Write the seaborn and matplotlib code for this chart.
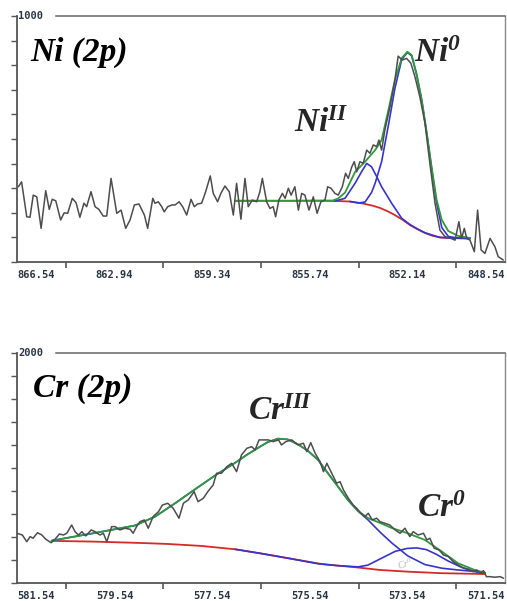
import matplotlib
matplotlib.use('Agg')
import matplotlib.pyplot as plt
import seaborn as sns

# ---------------- Ni 2p data (binding energy, counts) ----------------
ni_raw = [(866.49, 306), (866.37, 326), (866.18, 184), (866.06, 182), (865.94, 272), (865.81, 265),
          (865.65, 137), (865.48, 290), (865.35, 214), (865.24, 255), (865.11, 249), (864.93, 171),
          (864.80, 200), (864.67, 198), (864.50, 259), (864.36, 241), (864.22, 182), (864.07, 239),
          (863.97, 225), (863.81, 286), (863.66, 225), (863.52, 214), (863.36, 187), (863.23, 187),
          (863.07, 340), (862.86, 198), (862.70, 211), (862.53, 137), (862.37, 171), (862.21, 232),
          (862.04, 236), (861.84, 191), (861.72, 137), (861.53, 259), (861.45, 239), (861.33, 245),
          (861.20, 225), (861.11, 204), (860.98, 225), (860.83, 232), (860.71, 232), (860.56, 245),
          (860.43, 225), (860.28, 191), (860.12, 255), (860.00, 225), (859.88, 236), (859.73, 239),
          (859.58, 286), (859.41, 350), (859.30, 279), (859.14, 245), (859.02, 279), (858.87, 309),
          (858.71, 286), (858.56, 191), (858.44, 320), (858.28, 174), (858.13, 340), (858.01, 225),
          (857.86, 252), (857.70, 245), (857.58, 286), (857.49, 340), (857.33, 245), (857.21, 218),
          (857.09, 225), (857.00, 184), (856.88, 252), (856.75, 279), (856.65, 259), (856.53, 300),
          (856.43, 272), (856.29, 306), (856.16, 211), (856.04, 279), (855.92, 272), (855.77, 211),
          (855.61, 265), (855.47, 198), (855.33, 245), (855.18, 252), (855.08, 306), (854.96, 300),
          (854.81, 279), (854.69, 272), (854.54, 306), (854.42, 361), (854.32, 340), (854.19, 387),
          (854.10, 408), (854.01, 367), (853.89, 408), (853.77, 401), (853.64, 455), (853.52, 442),
          (853.40, 476), (853.27, 469), (853.19, 496), (853.09, 455), (852.97, 537), (852.78, 631),
          (852.60, 740), (852.48, 837), (852.33, 821), (852.17, 828), (852.01, 808), (851.86, 753),
          (851.68, 672), (851.49, 564), (851.31, 401), (851.12, 239), (850.94, 130), (850.75, 103),
          (850.53, 96), (850.38, 89), (850.24, 164), (850.14, 96), (850.04, 137), (849.95, 96),
          (849.83, 89), (849.67, 42), (849.55, 211), (849.42, 49), (849.28, 35), (849.09, 96),
          (848.91, 62), (848.79, 22), (848.60, 8)]
ni_fit = [(858.50, 249), (856.50, 249), (854.90, 250), (854.70, 258), (854.44, 282), (854.07, 366),
          (853.70, 408), (853.33, 455), (853.09, 496), (852.84, 618), (852.60, 740), (852.35, 829),
          (852.14, 855), (851.98, 841), (851.80, 764), (851.61, 659), (851.43, 528), (851.24, 382),
          (851.06, 252), (850.87, 171), (850.63, 126), (850.26, 106), (849.83, 98)]
ni_bg = [(858.50, 249), (856.50, 249), (855.20, 249), (854.70, 248), (854.26, 246), (854.00, 242),
         (853.70, 236), (853.42, 229), (853.15, 220), (852.88, 207), (852.60, 191), (852.32, 172),
         (852.04, 150), (851.76, 133), (851.49, 118), (851.22, 107), (850.94, 100), (850.67, 98),
         (850.40, 97), (849.83, 96)]
ni_2 = [(854.81, 248), (854.44, 259), (854.07, 320), (853.83, 367), (853.64, 401), (853.46, 387),
        (853.27, 347), (853.09, 306), (852.72, 239), (852.35, 178), (852.04, 152), (851.76, 134),
        (851.49, 119), (850.94, 100), (849.83, 96)]
ni_0 = [(854.26, 246), (853.95, 240), (853.70, 244), (853.46, 283), (853.33, 320), (853.09, 408),
        (852.84, 556), (852.60, 706), (852.35, 823), (852.14, 852), (851.98, 838), (851.80, 762),
        (851.61, 657), (851.43, 526), (851.24, 375), (851.06, 240), (850.87, 140), (850.63, 104),
        (850.26, 97), (849.83, 96)]
ni_ticks = [866.54, 862.94, 859.34, 855.74, 852.14, 848.54]
ni_minor = [864.74, 861.14, 857.54, 853.94, 850.34]

# ---------------- Cr 2p data ----------------
cr_raw = [(581.54, 432), (581.43, 417), (581.34, 359), (581.27, 403), (581.21, 389), (581.12, 437),
          (581.03, 417), (580.95, 380), (580.84, 350), (580.76, 380), (580.67, 426), (580.59, 417),
          (580.52, 432), (580.42, 504), (580.35, 446), (580.28, 417), (580.21, 446), (580.13, 409),
          (580.02, 461), (579.94, 446), (579.84, 417), (579.77, 432), (579.70, 359), (579.60, 490),
          (579.53, 490), (579.43, 461), (579.33, 476), (579.22, 467), (579.16, 432), (579.09, 490),
          (579.02, 533), (578.93, 548), (578.85, 476), (578.75, 577), (578.64, 620), (578.56, 678),
          (578.45, 693), (578.34, 650), (578.22, 563), (578.13, 693), (578.03, 722), (577.91, 794),
          (577.83, 707), (577.72, 737), (577.63, 794), (577.52, 852), (577.45, 954), (577.35, 954),
          (577.24, 1011), (577.14, 1041), (577.04, 968), (576.94, 1113), (576.83, 1171), (576.73, 1185),
          (576.66, 1157), (576.58, 1244), (576.39, 1244), (576.29, 1229), (576.18, 1244), (576.12, 1200),
          (576.03, 1229), (575.91, 1244), (575.78, 1200), (575.67, 1215), (575.60, 1142), (575.52, 1220),
          (575.43, 1128), (575.33, 1055), (575.26, 968), (575.19, 1041), (575.09, 954), (574.99, 867),
          (574.92, 881), (574.85, 809), (574.75, 737), (574.65, 678), (574.58, 650), (574.49, 606),
          (574.41, 577), (574.34, 606), (574.26, 548), (574.17, 563), (574.10, 533), (574.00, 519),
          (573.90, 504), (573.79, 461), (573.69, 432), (573.59, 476), (573.49, 403), (573.42, 446),
          (573.32, 417), (573.21, 432), (573.14, 374), (573.08, 389), (572.99, 302), (572.89, 287),
          (572.80, 243), (572.70, 229), (572.60, 185), (572.50, 157), (572.39, 128), (572.29, 119),
          (572.19, 98), (572.12, 113), (572.05, 84), (571.98, 107), (571.92, 55), (571.85, 55),
          (571.75, 50), (571.64, 55), (571.57, 41)]
cr_fit = [(580.83, 368), (579.94, 435), (579.12, 500), (578.71, 577), (578.30, 693), (577.89, 815),
          (577.48, 935), (577.07, 1045), (576.81, 1120), (576.56, 1185), (576.40, 1225), (576.19, 1255),
          (575.99, 1248), (575.78, 1205), (575.58, 1150), (575.37, 1070), (575.17, 955), (574.96, 837),
          (574.76, 722), (574.55, 625), (574.35, 565), (574.10, 522), (573.86, 478), (573.53, 432),
          (573.18, 374), (572.83, 272), (572.50, 171), (572.16, 113), (571.95, 90)]
cr_bg = [(580.83, 366), (580.00, 360), (579.02, 348), (578.44, 339), (577.76, 322), (577.07, 293),
         (576.56, 258), (575.98, 215), (575.30, 165), (574.61, 137), (574.10, 113), (573.52, 98),
         (572.84, 85), (571.95, 78)]
cr_3 = [(580.83, 368), (579.94, 435), (579.12, 500), (578.71, 577), (578.30, 693), (577.89, 815),
        (577.48, 935), (577.07, 1045), (576.81, 1120), (576.56, 1185), (576.40, 1225), (576.19, 1255),
        (575.99, 1248), (575.78, 1205), (575.58, 1150), (575.37, 1070), (575.17, 955), (574.96, 837),
        (574.76, 722), (574.55, 625), (574.35, 550), (574.10, 442), (573.86, 348), (573.53, 235),
        (573.18, 160), (572.83, 128), (572.50, 113), (572.16, 100), (571.95, 88)]
cr_0 = [(577.07, 293), (576.56, 258), (575.98, 215), (575.37, 167), (574.96, 150), (574.55, 140),
        (574.35, 155), (574.21, 185), (574.00, 230), (573.79, 275), (573.55, 300), (573.35, 305),
        (573.15, 290), (572.95, 250), (572.70, 190), (572.45, 140), (572.20, 105), (571.95, 82)]
cr_ticks = [581.54, 579.54, 577.54, 575.54, 573.54, 571.54]
cr_minor = [580.54, 578.54, 576.54, 574.54, 572.54]

# ---------------- style ----------------
sns.set_style('white')
plt.rcParams['mathtext.fontset'] = 'custom'
plt.rcParams['mathtext.rm'] = 'Liberation Serif'
plt.rcParams['mathtext.it'] = 'Liberation Serif:italic'
plt.rcParams['mathtext.bf'] = 'Liberation Serif:bold'
plt.rcParams['mathtext.bfit'] = 'Liberation Serif:italic:bold'

RAW = '#4d4d4d'
GREEN = '#2f9a3c'
RED = '#d42a2a'
BLUE = '#3535cc'
TICKC = '#2b3644'
lab_font = dict(family='Liberation Serif', style='italic', weight='bold', size=24, color='black')


def line(ax, pts, color, lw, z):
    xs = [p[0] for p in pts]
    ys = [p[1] for p in pts]
    sns.lineplot(x=xs, y=ys, ax=ax, color=color, lw=lw, sort=False, zorder=z)


def frame(ax, xlo, xhi, ymax, ticks, minor, gap_x, top_label):
    ax.set_xlim(xlo, xhi)
    ax.set_ylim(0, ymax)
    ax.set_xticks(ticks)
    ax.set_xticklabels([f'{t:.2f}' for t in ticks], family='DejaVu Sans Mono',
                       weight='bold', size=7.5, color=TICKC)
    labs = ax.get_xticklabels()
    labs[0].set_ha('left')
    labs[-1].set_ha('right')
    ax.set_xticks(minor, minor=True)
    ax.tick_params(axis='x', which='major', length=0, pad=6)
    ax.tick_params(axis='x', which='minor', length=4, width=1.2, direction='out',
                   color='#555555', bottom=True)
    ax.set_yticks([ymax * i / 10 for i in range(11)])
    ax.set_yticklabels([])
    ax.tick_params(axis='y', which='major', length=4, width=1.0, direction='out',
                   color='#555555', left=True)
    for s in ['left', 'bottom']:
        ax.spines[s].set_color('#555555')
        ax.spines[s].set_linewidth(1.3)
    ax.spines['top'].set_color('#666666')
    ax.spines['top'].set_linewidth(1.1)
    ax.spines['top'].set_bounds(gap_x, xhi)
    ax.spines['right'].set_color('#8a8a8a')
    ax.spines['right'].set_linewidth(1.0)
    ax.text(0.003, 1.0, top_label, transform=ax.transAxes, ha='left', va='center',
            family='DejaVu Sans Mono', weight='bold', size=7.5, color=TICKC)
    ax.set_xlabel('')
    ax.set_ylabel('')


fig = plt.figure(figsize=(5.07, 6.01), dpi=100)
ax1 = fig.add_axes([0.0335, 0.564, 0.9625, 0.4093])
ax2 = fig.add_axes([0.0335, 0.030, 0.9625, 0.3827])

# Ni panel
line(ax1, ni_bg, RED, 1.3, 2)
line(ax1, ni_2, BLUE, 1.2, 3)
line(ax1, ni_0, BLUE, 1.2, 3)
line(ax1, ni_fit, GREEN, 1.3, 4)
line(ax1, ni_raw, RAW, 1.1, 5)
frame(ax1, 866.54, 848.54, 1000, ni_ticks, ni_minor, 865.10, '1000')
ax1.text(0.027, 0.817, 'Ni (2p)', transform=ax1.transAxes, ha='left', va='baseline', **lab_font)
ax1.text(0.814, 0.813, r'$\mathbfit{Ni}^{\mathbfit{0}}$', transform=ax1.transAxes,
         ha='left', va='baseline', size=24)
ax1.text(0.568, 0.528, r'$\mathbfit{Ni}^{\mathbfit{II}}$', transform=ax1.transAxes,
         ha='left', va='baseline', size=24)

# Cr panel
line(ax2, cr_bg, RED, 1.3, 2)
line(ax2, cr_0, BLUE, 1.2, 3)
line(ax2, cr_3, BLUE, 1.2, 3)
line(ax2, cr_fit, GREEN, 1.3, 4)
line(ax2, cr_raw, RAW, 1.1, 5)
frame(ax2, 581.54, 571.54, 2000, cr_ticks, cr_minor, 580.74, '2000')
ax2.text(0.033, 0.809, 'Cr (2p)', transform=ax2.transAxes, ha='left', va='baseline', **lab_font)
ax2.text(0.473, 0.709, r'$\mathbfit{Cr}^{\mathbfit{III}}$', transform=ax2.transAxes,
         ha='left', va='baseline', size=24)
ax2.text(0.820, 0.287, r'$\mathbfit{Cr}^{\mathbfit{0}}$', transform=ax2.transAxes,
         ha='left', va='baseline', size=24)
ax2.text(0.776, 0.055, r'$Cr^{0}$', transform=ax2.transAxes, ha='left', va='baseline',
         size=7, color='#b5b5b5', rotation=15)

fig.savefig('out.png', dpi=100)
